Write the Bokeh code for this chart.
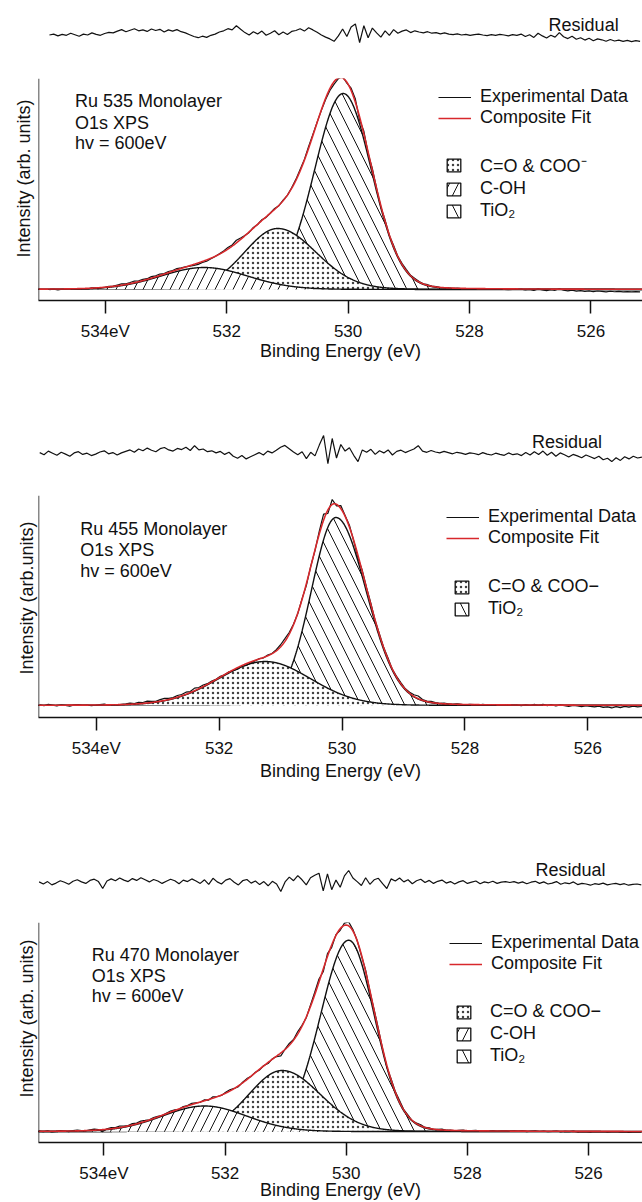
import numpy as np
from bokeh.plotting import figure
from bokeh.layouts import column
from bokeh.models import Range1d, Span, Label, Legend, LegendItem, FixedTicker, Title
from bokeh.embed import file_html
from bokeh.resources import INLINE

FONT = "Liberation Sans"
RED = "#d8282c"
BLACK = "#111111"

# ---------------- data ----------------
tick_values = [534, 532, 530, 528, 526]
tick_labels = ["534eV", "532", "530", "528", "526"]
axis_title = "Binding Energy (eV)"
residual_title = "Residual"
info_lines = ["O1s XPS", "hv = 600eV"]
line_legend_labels = ["Experimental Data", "Composite Fit"]
RES_STEP = 0.07  # eV between residual samples

# Panel 1 : Ru 535
p1_name = "Ru 535 Monolayer"
p1_ylabel = "Intensity (arb. units)"
p1_components = ["TiO2", "C=O", "C-OH"]
p1_component_labels = ["TiO\u2082", "C=O & COO\u207b", "C-OH"]
p1_centers = [530.08, 531.16, 532.37]
p1_heights = [196, 61, 22]
p1_fwhm_high = [1.12, 1.30, 1.70]
p1_fwhm_low = [1.10, 1.50, 1.70]
p1_res_start = 534.92
p1_residual = [
    -0.5, -0.2, -0.8, -0.3, -0.6, 0.1, -0.4, -0.9, -0.2, -0.5, 0.2, -0.3, -0.6, 0.0, 0.4, 0.2,
    0.8, 1.3, 0.6, 1.1, 1.6, 0.9, 1.2, 0.7, 1.5, 1.0, 1.4, 0.5, 1.2, 0.8, 1.3, 0.6, 0.2,
    -0.4, -1.0, -1.4, -0.9, -1.3, -0.6, -0.2,
    0.5, 0.9, 1.6, 1.2, 2.6, 1.4,
    0.3, -0.5, 0.6, -0.2, 0.8, -0.6, 0.1, 0.9, -0.4, 0.5, -0.3, 0.7, 1.0,
    1.6, 0.8, 1.9, 1.2, 0.4,
    -0.5, -1.2, -1.8, -2.6, -0.8,
    1.5, -1.0, 2.2, 3.2, -3.0, 2.6, -1.4,
    1.8, 0.2, -1.2, 0.9, -0.6, 1.3, 0.1, 0.8, 1.2, 0.3, 0.9,
    0.5, 0.2, 0.6, 0.1, 0.3, -0.1, 0.2, -0.2, -0.4, -0.1, -0.5, -0.3, -0.6, -0.4, -0.2, -0.5,
    -0.7, -0.4, -0.6, -0.3, -0.5, -0.8, -0.4, -0.6,
    -0.2, -1.0, -0.4, -1.3, 0.1, -0.8, -1.5, -0.6, -1.2, 0.3, -1.1, -1.7, -0.9, -1.9, -1.4,
    -2.2, -1.6, -2.4, -1.8, -2.1, -2.6, -2.0, -2.5, -2.2, -2.6, -2.3, -2.7, -2.4, -2.6,
]

# Panel 2 : Ru 455
p2_name = "Ru 455 Monolayer"
p2_ylabel = "Intensity (arb.units)"
p2_components = ["TiO2", "C=O"]
p2_component_labels = ["TiO\u2082", "C=O & COO\u2212"]
p2_centers = [530.10, 531.25]
p2_heights = [188, 44]
p2_fwhm_high = [0.95, 1.80]
p2_fwhm_low = [1.17, 1.75]
p2_res_start = 534.92
p2_residual = [
    0.3, -0.4, 0.8, 0.1, -0.6, 0.4, -0.2, -0.9, 0.2, 0.6, -0.3, 0.1, -0.7, -0.2, 0.5, 0.9, -0.1, 0.3, -0.5, 0.2,
    0.7, 1.2, 0.4, 1.5, 0.9, 1.8, 1.1, 0.6, 1.6, 2.0, 1.2, 0.8, 1.7, 1.3, 2.1, 1.0,
    2.6, 1.2, 1.5, 0.6, 0.9, 0.2, 0.7, -0.3, 0.4,
    -0.9, -1.6, -0.7, -1.8, -1.1, -0.4,
    0.3, -0.5, 0.8, 0.2, 1.1, 2.1, 2.7, 1.6, 0.5, -0.4, 0.6,
    -1.7, 0.4, -0.8, 2.8, 6.0, -3.4,
    5.0, -1.5, 3.0, 0.8, 1.9, -0.6, -2.7, 1.2, 0.4,
    1.4, -0.3, 0.9, 0.2, 1.2, -0.5, 0.7, 1.1, 0.3, 0.9, 1.5, 2.6,
    0.8, 0.4, 1.0, 0.5, 0.2, 0.7, 0.3, -0.1, 0.4, 0.1, -0.3, 0.2, 0.0, -0.4, 0.3, -0.2, -0.5,
    0.1, -0.3, -0.6, 0.2, -0.4, -0.1, -0.7, 0.3, -0.5,
    0.6, -0.3, 0.8, -0.6, 0.4, -0.9, 0.2, -0.4, -1.2, -0.3, -0.8, -1.4, -0.5, -1.1, -1.7, -0.9,
    -2.1, -1.6, -2.7, -1.4, -2.3, -1.1, -1.8, -0.9, -1.5, -1.2,
]

# Panel 3 : Ru 470
p3_name = "Ru 470 Monolayer"
p3_ylabel = "Intensity (arb. units)"
p3_components = ["TiO2", "C=O", "C-OH"]
p3_component_labels = ["TiO\u2082", "C=O & COO\u2212", "C-OH"]
p3_centers = [529.96, 531.06, 532.34]
p3_heights = [194, 62, 26]
p3_fwhm_high = [1.10, 1.30, 1.65]
p3_fwhm_low = [1.00, 1.50, 1.65]
p3_res_start = 535.07
p3_residual = [
    0.2, -0.5, 0.3, -0.8, -0.2, 0.6, 0.1, -0.6, 0.4, 0.9, 0.2, -0.3, 0.7, 1.1, 0.3,
    -2.0, 0.5, 1.2, 0.6, 1.5, 0.8, 0.3, 1.3, 0.7, 1.6, 0.9, 0.2, 1.0, 0.5, -0.3, 0.4, 1.1, 0.6,
    -0.4, 0.8, 0.3, 1.2, 0.5,
    -0.3, 0.9, -0.6, 1.4, 0.2, -0.5, 0.8, 1.3, 0.1, -0.8, 0.6, 1.0, -0.2, 0.5, -0.7, 0.3, -1.1,
    0.4, -0.5, -3.0, 0.2,
    1.8, 0.6, 2.3, 0.9, -0.8, 1.6, 2.4,
    3.1, -2.8, 2.9, -2.4, 0.8, -1.6, 2.2, 4.0,
    1.5, 0.3, -1.0, 1.6, -0.6, 0.9, 1.4, -0.4, -2.0,
    1.2, 0.5, 1.5, 0.2, 0.9, -0.4, 0.6, 1.1, 0.0, 0.7, -0.3, 0.4, 0.8, -0.2, 0.3, -0.5, 0.2,
    0.6, -0.3, 0.1, 0.5, -0.4, 0.2, -0.1, 0.4, -0.3, 0.1, 0.3,
    0.0, 0.3, -0.2, 0.2, -0.4, 0.1, 0.4, -0.3, 0.2, -0.5, -0.2, 0.3, -0.6, -0.1, -0.4, 0.2,
    -0.7, -0.3, -0.5, -0.9, -0.4, -0.6, -0.2, -0.8, -0.5, -0.3, -0.7, -0.4, -0.9, -0.6, -0.5, -0.8,
]

# ---------------- styling / layout ----------------
DRAW_ORDER = ["TiO2", "C=O", "C-OH"]
LEGEND_ORDER = ["C=O", "C-OH", "TiO2"]
HATCH = {
    "TiO2": dict(hatch_pattern="\\", hatch_scale=22, hatch_alpha=1.0),
    "C=O": dict(hatch_pattern=".", hatch_scale=5, hatch_alpha=0.8),
    "C-OH": dict(hatch_pattern="/", hatch_scale=18, hatch_alpha=1.0),
}

GEO = [
    dict(x0=535.10, x1=525.15, L=38, H=360, T=18, B=120, y0=-11, y1=211,
         text_x=534.50, text_y=[189, 167, 147], ylab_off=43, ylab_standoff=10,
         xlab_standoff=-3, res_lab_x=526.12, res_lab_y=3.0,
         leg1=(400, 172), leg2=(407, 79)),
    dict(x0=534.94, x1=525.11, L=34, H=369, T=15, B=132, y0=-12, y1=210,
         text_x=534.26, text_y=[177, 156, 135], ylab_off=43, ylab_standoff=4,
         xlab_standoff=0, res_lab_x=526.34, res_lab_y=4.0,
         leg1=(408, 169), leg2=(415, 98)),
    dict(x0=535.08, x1=525.11, L=34, H=293, T=13, B=57, y0=-11, y1=212,
         text_x=534.20, text_y=[179, 158, 137], ylab_off=45, ylab_standoff=4,
         xlab_standoff=-6, res_lab_x=526.30, res_lab_y=4.3,
         leg1=(411, 168), leg2=(417, 76)),
]


def comp_curve(x, c, h, w_high, w_low, m=0.06):
    w = np.where(x >= c, w_high, w_low)
    r2 = 4.0 * ((x - c) / w) ** 2
    return h * ((1 - m) * np.exp(-np.log(2) * r2) + m / (1 + r2))


def build_panel(name, ylabel, comps, comp_labels, centers, heights, w_high, w_low,
                res_start, residual, g):
    xr = Range1d(g["x0"], g["x1"])
    xf = np.arange(g["x0"] + 0.05, g["x1"] - 0.05, -0.005)
    res = np.array(residual, dtype=float)
    xres = res_start - RES_STEP * np.arange(len(res))

    params = {k: (c, h, a, b) for k, c, h, a, b in zip(comps, centers, heights, w_high, w_low)}
    curves = {k: comp_curve(xf, *params[k]) for k in comps}
    fit_f = sum(curves.values())
    fit_r = sum(comp_curve(xres, *params[k]) for k in comps)
    exp_data = fit_r + res

    # ---- residual strip ----
    r = figure(width=642, height=60, x_range=xr, y_range=Range1d(-9, 11),
               output_backend="svg", toolbar_location=None,
               x_axis_location=None, y_axis_location=None,
               min_border_left=g["L"], min_border_right=0,
               min_border_top=0, min_border_bottom=0)
    r.grid.visible = False
    r.outline_line_color = None
    r.line(xres, res, color=BLACK, line_width=1.2)
    r.add_layout(Label(x=g["res_lab_x"], y=g["res_lab_y"], text=residual_title,
                       text_font=FONT, text_font_size="18px", text_color=BLACK,
                       text_align="center", text_baseline="middle"))

    # ---- main plot ----
    p = figure(width=642, height=g["H"], x_range=xr, y_range=Range1d(g["y0"], g["y1"]),
               output_backend="svg", toolbar_location=None, y_axis_location=None,
               min_border_left=g["L"], min_border_right=0,
               min_border_top=g["T"], min_border_bottom=g["B"])
    p.grid.visible = False
    p.outline_line_color = None
    ax = p.xaxis[0]
    ax.ticker = FixedTicker(ticks=tick_values)
    ax.major_label_overrides = dict(zip(tick_values, tick_labels))
    ax.minor_tick_line_color = None
    ax.major_tick_in = 0
    ax.major_tick_out = 13
    ax.major_tick_line_width = 1.5
    ax.major_tick_line_color = BLACK
    ax.axis_line_width = 1.6
    ax.axis_line_color = BLACK
    ax.major_label_text_font = FONT
    ax.major_label_text_font_size = "17px"
    ax.major_label_text_color = BLACK
    ax.major_label_standoff = 8
    ax.axis_label = axis_title
    ax.axis_label_text_font = FONT
    ax.axis_label_text_font_size = "18px"
    ax.axis_label_text_font_style = "normal"
    ax.axis_label_text_color = BLACK
    ax.axis_label_standoff = g["xlab_standoff"]
    p.add_layout(Span(location=g["x0"], dimension="height", line_color=BLACK, line_width=1.5))

    p.add_layout(Title(text=ylabel, align="left", offset=g["ylab_off"],
                       standoff=g["ylab_standoff"], text_font=FONT,
                       text_font_size="18px", text_font_style="normal",
                       text_color=BLACK), "left")

    for k in DRAW_ORDER:
        if k not in curves:
            continue
        p.varea(x=xf, y1=np.zeros_like(xf), y2=curves[k], fill_color="white",
                hatch_color=BLACK, hatch_weight=1.0, **HATCH[k])
        p.line(xf, curves[k], color=BLACK, line_width=1.4)

    exp_r = p.line(xres, exp_data, color=BLACK, line_width=1.2)
    fit_rr = p.line(xf, fit_f, color=RED, line_width=1.6)

    # zero-size legend proxies (kept below the visible range) for the component swatches
    proxies = {}
    for k in comps:
        proxies[k] = p.quad(left=[g["x0"]], right=[g["x0"]], top=[g["y0"] - 5],
                            bottom=[g["y0"] - 5], fill_color="white",
                            line_color=BLACK, line_width=1.3, hatch_color=BLACK,
                            hatch_weight=1.0, **HATCH[k])

    common = dict(padding=0, margin=0, border_line_color=None, background_fill_alpha=0,
                  label_text_font=FONT, label_text_font_size="18px",
                  label_text_color=BLACK, orientation="vertical")
    leg1 = Legend(items=[LegendItem(label=line_legend_labels[0], renderers=[exp_r]),
                         LegendItem(label=line_legend_labels[1], renderers=[fit_rr])],
                  location=g["leg1"], glyph_width=33, glyph_height=20, label_height=20,
                  label_standoff=9, spacing=0, **common)
    lab = dict(zip(comps, comp_labels))
    items2 = [LegendItem(label=lab[k], renderers=[proxies[k]]) for k in LEGEND_ORDER if k in comps]
    leg2 = Legend(items=items2, location=g["leg2"], glyph_width=17, glyph_height=16,
                  label_height=21, label_standoff=18, spacing=1, **common)
    p.add_layout(leg1)
    p.add_layout(leg2)

    for txt, yy in zip([name] + info_lines, g["text_y"]):
        p.add_layout(Label(x=g["text_x"], y=yy, text=txt, text_font=FONT,
                           text_font_size="18px", text_color=BLACK,
                           text_align="left", text_baseline="middle"))
    return r, p


r1, m1 = build_panel(p1_name, p1_ylabel, p1_components, p1_component_labels, p1_centers,
                     p1_heights, p1_fwhm_high, p1_fwhm_low, p1_res_start, p1_residual, GEO[0])
r2, m2 = build_panel(p2_name, p2_ylabel, p2_components, p2_component_labels, p2_centers,
                     p2_heights, p2_fwhm_high, p2_fwhm_low, p2_res_start, p2_residual, GEO[1])
r3, m3 = build_panel(p3_name, p3_ylabel, p3_components, p3_component_labels, p3_centers,
                     p3_heights, p3_fwhm_high, p3_fwhm_low, p3_res_start, p3_residual, GEO[2])

layout = column(r1, m1, r2, m2, r3, m3, spacing=0)
open("out.html", "w").write(file_html(layout, INLINE))
